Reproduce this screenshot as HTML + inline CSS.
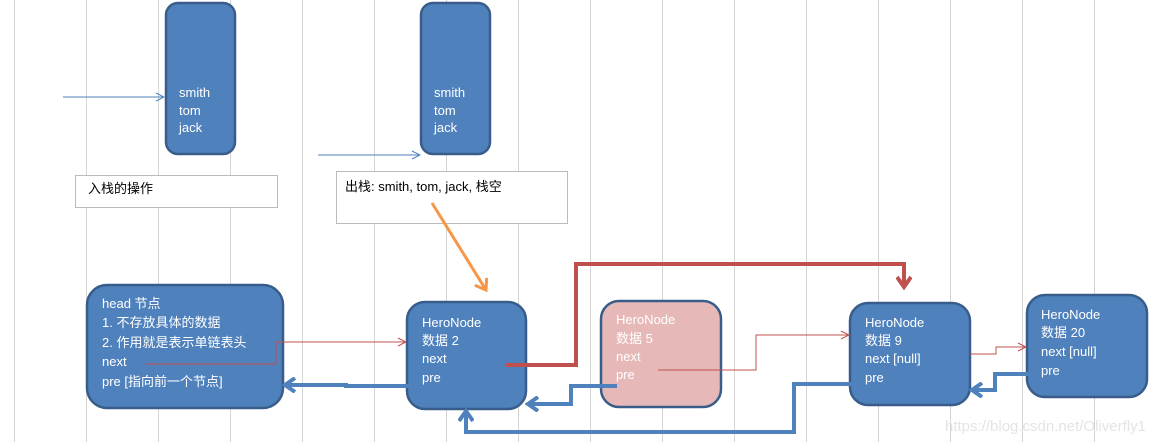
<!DOCTYPE html>
<html><head><meta charset="utf-8"><style>
html,body{margin:0;padding:0}
body{width:1163px;height:442px;overflow:hidden;position:relative;background:#fff;
background-image:repeating-linear-gradient(90deg,transparent 0,transparent 14px,#d4d4d4 14px,#d4d4d4 15px,transparent 15px,transparent 72px),
repeating-linear-gradient(180deg,transparent 0,transparent 18px,#d4d4d4 18px,#d4d4d4 19px,transparent 19px,transparent 36px);
background-size:72px 442px,1163px 18px;}
svg{position:absolute;left:0;top:0}
text{font-family:"Liberation Sans","Noto Sans CJK SC",sans-serif;font-size:13px;fill:#fff}
</style></head><body>
<svg width="1163" height="442" viewBox="0 0 1163 442">
<defs>
<marker id="ab" markerWidth="10" markerHeight="10" refX="9" refY="5" orient="auto" markerUnits="userSpaceOnUse"><path d="M1,1 L9,5 L1,9" fill="none" stroke="#4f81bd" stroke-width="1"/></marker>
<marker id="ar" markerWidth="10" markerHeight="10" refX="9" refY="5" orient="auto" markerUnits="userSpaceOnUse"><path d="M1,1 L9,5 L1,9" fill="none" stroke="#c0504d" stroke-width="1"/></marker>
<marker id="abT" markerWidth="16" markerHeight="16" refX="13" refY="8" orient="auto" markerUnits="userSpaceOnUse"><path d="M3,1 L13,8 L3,15" fill="none" stroke="#4f81bd" stroke-width="4"/></marker>
<marker id="arT" markerWidth="16" markerHeight="16" refX="13" refY="8" orient="auto" markerUnits="userSpaceOnUse"><path d="M3,1 L13,8 L3,15" fill="none" stroke="#c0504d" stroke-width="4"/></marker>
<marker id="aoT" markerWidth="16" markerHeight="16" refX="13" refY="8" orient="auto" markerUnits="userSpaceOnUse"><path d="M3,1 L13,8 L3,15" fill="none" stroke="#f79646" stroke-width="3"/></marker>
</defs>
<!-- stacks -->
<rect x="166" y="3" width="69" height="151" rx="12" fill="#4f81bd" stroke="#385d8a" stroke-width="2.5"/>
<text x="179" y="97">smith</text><text x="179" y="115">tom</text><text x="179" y="132">jack</text>
<rect x="421" y="3" width="69" height="151" rx="12" fill="#4f81bd" stroke="#385d8a" stroke-width="2.5"/>
<text x="434" y="97">smith</text><text x="434" y="115">tom</text><text x="434" y="132">jack</text>
<line x1="63" y1="97" x2="164" y2="97" stroke="#4f81bd" stroke-width="1" marker-end="url(#ab)"/>
<line x1="318" y1="155" x2="420" y2="155" stroke="#4f81bd" stroke-width="1" marker-end="url(#ab)"/>
<rect x="75.5" y="175.5" width="202" height="32" fill="#fff" stroke="#bbb"/>
<text x="88" y="193" style="fill:#000">入栈的操作</text>
<rect x="336.5" y="171.5" width="231" height="52" fill="#fff" stroke="#bbb"/>
<text x="345" y="191" style="fill:#000">出栈:  smith, tom, jack, 栈空</text>
<line x1="432" y1="203" x2="486" y2="290" stroke="#f79646" stroke-width="3" marker-end="url(#aoT)"/>
<!-- nodes -->
<rect x="87" y="285" width="196" height="123" rx="20" fill="#4f81bd" stroke="#385d8a" stroke-width="2.5"/>
<text x="102" y="308">head 节点</text><text x="102" y="327">1. 不存放具体的数据</text><text x="102" y="347">2. 作用就是表示单链表头</text><text x="102" y="366">next</text><text x="102" y="386">pre  [指向前一个节点]</text>
<rect x="407" y="302" width="119" height="107" rx="18" fill="#4f81bd" stroke="#385d8a" stroke-width="2.5"/>
<text x="422" y="327">HeroNode</text><text x="422" y="345">数据 2</text><text x="422" y="363">next</text><text x="422" y="382">pre</text>
<rect x="601" y="301" width="120" height="106" rx="18" fill="#e6b9b8" stroke="#385d8a" stroke-width="2.5"/>
<text x="616" y="324">HeroNode</text><text x="616" y="343">数据 5</text><text x="616" y="361">next</text><text x="616" y="379">pre</text>
<rect x="850" y="303" width="120" height="102" rx="18" fill="#4f81bd" stroke="#385d8a" stroke-width="2.5"/>
<text x="865" y="327">HeroNode</text><text x="865" y="345">数据 9</text><text x="865" y="363">next [null]</text><text x="865" y="382">pre</text>
<rect x="1027" y="295" width="120" height="102" rx="18" fill="#4f81bd" stroke="#385d8a" stroke-width="2.5"/>
<text x="1041" y="319">HeroNode</text><text x="1041" y="337">数据 20</text><text x="1041" y="356">next [null]</text><text x="1041" y="375">pre</text>
<!-- connectors -->
<polyline points="146,364 276,364 276,342 406,342" fill="none" stroke="#c0504d" stroke-width="1" marker-end="url(#ar)"/>
<polyline points="658,370 756,370 756,335 849,335" fill="none" stroke="#c0504d" stroke-width="1" marker-end="url(#ar)"/>
<polyline points="970,354 996,354 996,347 1026,347" fill="none" stroke="#c0504d" stroke-width="1" marker-end="url(#ar)"/>
<polyline points="506,365 576,365 576,264 904,264 904,287" fill="none" stroke="#c0504d" stroke-width="4" marker-end="url(#arT)"/>
<polyline points="411,386 346,386 346,385 285,385" fill="none" stroke="#4f81bd" stroke-width="4" marker-end="url(#abT)"/>
<polyline points="617,386 571,386 571,404 528,404" fill="none" stroke="#4f81bd" stroke-width="4" marker-end="url(#abT)"/>
<polyline points="864,384 794,384 794,432 466,432 466,411" fill="none" stroke="#4f81bd" stroke-width="4" marker-end="url(#abT)"/>
<polyline points="1029,374 995,374 995,390 972,390" fill="none" stroke="#4f81bd" stroke-width="4" marker-end="url(#abT)"/>
<text x="945" y="431" style="fill:#e4e4e4;font-size:15px">https://blog.csdn.net/Oliverfly1</text>
</svg>
</body></html>
